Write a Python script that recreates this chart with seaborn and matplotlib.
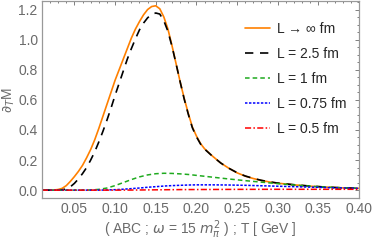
import matplotlib
matplotlib.use('Agg')
import matplotlib.pyplot as plt
from matplotlib.ticker import MultipleLocator
import seaborn as sns

# temperature grids (GeV) and dT M curves
T_inf = [0.010, 0.020, 0.025, 0.030, 0.035, 0.040, 0.045, 0.050, 0.055, 0.060,
         0.065, 0.070, 0.075, 0.080, 0.085, 0.090, 0.095, 0.100, 0.105, 0.110,
         0.115, 0.120, 0.125, 0.130, 0.135, 0.140, 0.145, 0.150, 0.155, 0.160,
         0.165, 0.170, 0.175, 0.180, 0.185, 0.190, 0.195, 0.200, 0.205, 0.210,
         0.220, 0.230, 0.240, 0.250, 0.260, 0.270, 0.280, 0.290, 0.300, 0.320,
         0.340, 0.360, 0.380, 0.400]
M_inf = [0.000, 0.000, 0.001, 0.004, 0.012, 0.030, 0.058, 0.090, 0.125, 0.165,
         0.215, 0.270, 0.335, 0.410, 0.490, 0.570, 0.650, 0.730, 0.800, 0.870,
         0.940, 1.010, 1.070, 1.120, 1.165, 1.200, 1.220, 1.225, 1.205, 1.150,
         1.070, 0.960, 0.840, 0.720, 0.610, 0.510, 0.420, 0.360, 0.310, 0.275,
         0.225, 0.180, 0.145, 0.115, 0.093, 0.077, 0.064, 0.054, 0.046, 0.035,
         0.026, 0.020, 0.015, 0.012]

T_25 = [0.010, 0.030, 0.035, 0.040, 0.045, 0.050, 0.055, 0.060, 0.065, 0.070,
        0.075, 0.080, 0.085, 0.090, 0.095, 0.100, 0.105, 0.110, 0.115, 0.120,
        0.125, 0.130, 0.135, 0.140, 0.145, 0.150, 0.155, 0.160, 0.165, 0.170,
        0.175, 0.180, 0.185, 0.190, 0.195, 0.200, 0.205, 0.210, 0.220, 0.230,
        0.240, 0.250, 0.260, 0.270, 0.280, 0.290, 0.300, 0.320, 0.340, 0.360,
        0.380, 0.400]
M_25 = [0.000, 0.000, 0.002, 0.008, 0.022, 0.045, 0.075, 0.110, 0.150, 0.200,
        0.255, 0.320, 0.390, 0.465, 0.545, 0.630, 0.710, 0.790, 0.870, 0.940,
        1.005, 1.065, 1.110, 1.145, 1.168, 1.177, 1.170, 1.125, 1.055, 0.955,
        0.840, 0.720, 0.605, 0.505, 0.415, 0.355, 0.307, 0.273, 0.224, 0.180,
        0.145, 0.116, 0.094, 0.078, 0.065, 0.055, 0.047, 0.036, 0.027, 0.020,
        0.015, 0.012]

T_1 = [0.010, 0.060, 0.070, 0.080, 0.090, 0.100, 0.110, 0.120, 0.130, 0.140,
       0.150, 0.160, 0.170, 0.180, 0.190, 0.200, 0.210, 0.220, 0.240, 0.260,
       0.280, 0.300, 0.320, 0.340, 0.360, 0.380, 0.400]
M_1 = [0.000, 0.000, 0.001, 0.005, 0.014, 0.030, 0.050, 0.070, 0.088, 0.101,
       0.109, 0.112, 0.111, 0.108, 0.104, 0.098, 0.092, 0.086, 0.074, 0.063,
       0.053, 0.043, 0.034, 0.026, 0.020, 0.015, 0.012]

T_075 = [0.010, 0.080, 0.090, 0.100, 0.110, 0.120, 0.130, 0.140, 0.150, 0.160,
         0.170, 0.180, 0.190, 0.200, 0.210, 0.220, 0.240, 0.260, 0.280, 0.300,
         0.320, 0.340, 0.360, 0.380, 0.400]
M_075 = [0.000, 0.000, 0.001, 0.003, 0.006, 0.010, 0.014, 0.019, 0.023, 0.027,
         0.030, 0.032, 0.034, 0.035, 0.035, 0.035, 0.034, 0.032, 0.029, 0.026,
         0.023, 0.020, 0.017, 0.014, 0.012]

T_05 = [0.010, 0.100, 0.120, 0.140, 0.160, 0.180, 0.200, 0.250, 0.300, 0.350, 0.400]
M_05 = [0.000, 0.000, 0.0005, 0.0015, 0.0025, 0.0035, 0.004, 0.005, 0.0055, 0.0055, 0.0055]

labels = ['L → ∞ fm', 'L = 2.5 fm', 'L = 1 fm', 'L = 0.75 fm', 'L = 0.5 fm']
xtick_labels = ['0.05', '0.10', '0.15', '0.20', '0.25', '0.30', '0.35', '0.40']
ytick_labels = ['0.0', '0.2', '0.4', '0.6', '0.8', '1.0', '1.2']

sns.set_style('white')
plt.rcParams['font.family'] = ['Liberation Sans', 'DejaVu Sans']
plt.rcParams['mathtext.fontset'] = 'dejavusans'

gray = '#6a6a6a'
fig = plt.figure(figsize=(3.74, 2.41), dpi=100)
ax = fig.add_axes([0.112, 0.178, 0.848, 0.818])

sns.lineplot(x=T_inf, y=M_inf, ax=ax, color='#FF8000', lw=1.2, label=labels[0])
sns.lineplot(x=T_25, y=M_25, ax=ax, color='black', lw=1.2, label=labels[1]).lines[-1].set_dashes((5, 4))
sns.lineplot(x=T_1, y=M_1, ax=ax, color='#1FAA1F', lw=1.1, label=labels[2]).lines[-1].set_dashes((3, 2))
sns.lineplot(x=T_075, y=M_075, ax=ax, color='#0000FF', lw=1.1, label=labels[3]).lines[-1].set_dashes((1.6, 1))
sns.lineplot(x=T_05, y=M_05, ax=ax, color='#FF0000', lw=1.1, label=labels[4]).lines[-1].set_dashes((4, 1.5, 1, 1.5))

ax.set_xlim(0.01, 0.40)
ax.set_ylim(-0.053, 1.257)
ax.xaxis.set_minor_locator(MultipleLocator(0.01))
ax.yaxis.set_minor_locator(MultipleLocator(0.05))
ax.set_xticks([float(s) for s in xtick_labels])
ax.set_xticklabels(xtick_labels)
ax.set_yticks([float(s) for s in ytick_labels])
ax.set_yticklabels(ytick_labels)
ax.tick_params(which='both', direction='in', top=True, right=True, color=gray,
               labelcolor=gray, labelsize=10, width=0.6, pad=3)
ax.tick_params(which='major', length=3)
ax.tick_params(which='minor', length=1.6)
for sp in ax.spines.values():
    sp.set_color('#999999')
    sp.set_linewidth(0.9)

ax.set_xlabel(r'( ABC ; $\omega$ = 15 $m_\pi^2$ ) ; T [ GeV ]', color=gray, fontsize=10, labelpad=1.5)
ax.set_ylabel(r'$\partial_T$M', color=gray, fontsize=10, labelpad=1)

ax.legend(loc='upper left', bbox_to_anchor=(0.64, 0.895), frameon=False,
          borderpad=0, borderaxespad=0, handlelength=1.8, handletextpad=0.5,
          labelspacing=0.8, fontsize=10)

fig.savefig('out.png', dpi=100)
